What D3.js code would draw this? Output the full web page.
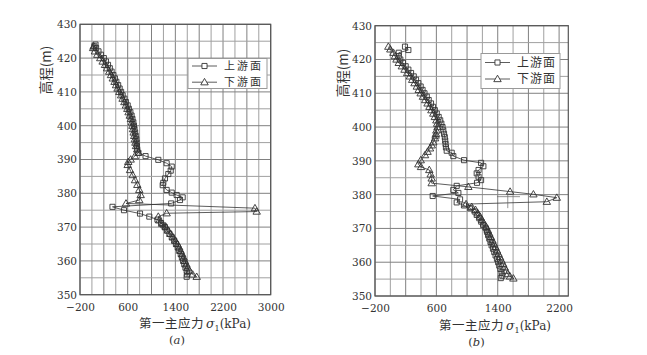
<!DOCTYPE html>
<html><head><meta charset="utf-8">
<script src="https://cdn.jsdelivr.net/npm/d3@7"></script>
<style>body{margin:0;background:#fff}</style></head><body>
<svg id="c" width="647" height="355"></svg>
<script>
// [stress kPa, elevation m]
const aUp = [[60,424.0],[40,423.5],[70,423],[110,422],[150,421],[200,420],[235,419],[270,418],[300,417],[330,416],[360,415],[385,414],[410,413],[440,412],[465,411],[490,410],[515,409],[545,408],[570,407],[600,406],[620,405],[645,404],[665,403],[680,402],[695,401],[705,400],[715,399],[725,398],[735,397],[745,396],[750,395],[755,394],[760,393],[780,392],[900,391],[1114,389.9],[1254,388.9],[1339,387.9],[1322,386.7],[1282,385.7],[1226,384.4],[1198,383.1],[1188,382.4],[1254,381.0],[1339,380.2],[1422,379.5],[1523,378.8],[1478,378.0],[1330,377.0],[345,376.0],[538,375.0],[807,374.0],[963,373.1],[1100,372.2],[1160,371.2],[1200,370.5],[1225,370],[1260,369],[1300,368],[1340,367],[1380,366],[1410,365],[1440,364],[1465,363],[1490,362],[1510,361],[1530,360],[1550,359],[1570,358],[1590,357],[1600,356],[1590,355.3]];
const aDown = [[30,423.5],[20,423],[50,422],[90,421],[140,420],[180,419],[220,418],[255,417],[290,416],[320,415],[350,414],[380,413],[405,412],[430,411],[460,410],[490,409],[515,408],[545,407],[570,406],[595,405],[615,404],[635,403],[655,402],[670,401],[680,400],[690,399],[700,398],[710,397],[720,396],[730,395],[740,394],[760,393],[780,392],[720,391],[650,390],[610,389.3],[600,388.4],[640,386.9],[684,385.4],[723,383.9],[762,382.5],[795,381.0],[818,379.5],[795,378.0],[572,377.0],[2736,375.6],[2765,374.6],[1254,374.1],[1114,373.1],[1130,372],[1180,371],[1240,370],[1280,369],[1320,368],[1360,367],[1400,366],[1435,365],[1465,364],[1490,363],[1515,362],[1540,361],[1560,360],[1585,359],[1610,358],[1640,357],[1690,356],[1758,355.3]];
const bUp = [[191,423.8],[235,422.8],[110,422],[110,421],[130,420],[165,419],[200,418],[235,417],[270,416],[305,415],[335,414],[365,413],[395,412],[420,411],[445,410],[475,409],[500,408],[530,407],[555,406],[580,405],[605,404],[630,403],[650,402],[665,401],[680,400],[690,399],[700,398],[710,397],[715,396],[720,395],[725,394],[735,393],[800,392.4],[821,391.4],[961,390.2],[1183,389.4],[1213,388.4],[1150,387.3],[1126,386.3],[1150,385.3],[1183,384.3],[1130,383.5],[865,382.6],[821,381.4],[887,380.5],[552,379.6],[909,378.6],[865,377.7],[960,376.8],[1040,376],[1100,375],[1126,374],[1160,373],[1185,372],[1210,371],[1245,370],[1260,369],[1275,368],[1290,367],[1305,366],[1320,365],[1338,364],[1355,363],[1372,362],[1390,361],[1405,360],[1420,359],[1435,358],[1450,357],[1460,356],[1440,355.3]];
const bDown = [[-26,423.8],[0,423],[40,422],[60,421],[80,420],[110,419],[150,418],[185,417],[220,416],[255,415],[285,414],[315,413],[345,412],[370,411],[395,410],[425,409],[455,408],[485,407],[510,406],[535,405],[560,404],[580,403],[600,402],[610,401],[615,400],[600,399],[595,398],[590,397.5],[583,396.7],[560,395.5],[540,394.6],[517,393.7],[485,392.7],[452,391.7],[396,390.2],[365,389.0],[400,388.2],[508,387.3],[526,386.0],[539,384.8],[539,383.4],[1017,382.3],[1561,380.9],[1865,380.1],[2170,379.1],[2040,377.9],[987,377.2],[1061,376.4],[1110,375.5],[1140,374.5],[1170,373.5],[1195,372.5],[1220,371.5],[1250,370.5],[1270,369.5],[1290,368.5],[1310,367.5],[1330,366.5],[1350,365.5],[1370,364.5],[1390,363.5],[1410,362.5],[1430,361.5],[1450,360.5],[1470,359.5],[1490,358.5],[1510,357.5],[1530,356.5],[1560,355.8],[1604,355.2]];
const bCross = [[1531,380.5],[1531,376.0],[1390,379.4],[1690,379.4]];

const yTicks = [350,360,370,380,390,400,410,420,430];
const aXTicks = [-200,600,1400,2200,3000];
const bXTicks = [-200,600,1400,2200];
const legendLabels = ["上游面","下游面"];
const xTitle = "第一主应力";
const yTitle = "高程(m)";
const panelLabels = ["a","b"];

const svg = d3.select("#c");
const serif = "DejaVu Serif, Liberation Serif, serif";
const cjk = "Noto Sans CJK SC, sans-serif";
const fmt = d => (d < 0 ? "\u2212" : "") + Math.abs(d);

function panel(cfg){
  const x = d3.scaleLinear().domain(cfg.xd).range([cfg.l, cfg.r]);
  const y = d3.scaleLinear().domain([350,430]).range([cfg.b, cfg.t]);
  const g = svg.append("g");
  const xg = d3.range(-200, cfg.xd[1]+1, 200);
  const yg = d3.range(350, 431, 5);
  g.selectAll(".vg").data(xg).join("line")
    .attr("x1", d=>x(d)).attr("x2", d=>x(d)).attr("y1", cfg.t).attr("y2", cfg.b)
    .attr("stroke", (d)=> ((d+200)%400===0) ? "#808080" : "#a0a0a0").attr("stroke-width", 1);
  g.selectAll(".hg").data(yg).join("line")
    .attr("x1", cfg.l).attr("x2", cfg.r).attr("y1", d=>y(d)).attr("y2", d=>y(d))
    .attr("stroke", d=> (d%10===0) ? "#808080" : "#a0a0a0").attr("stroke-width", 1);
  g.append("rect").attr("x", cfg.l).attr("y", cfg.t).attr("width", cfg.r-cfg.l).attr("height", cfg.b-cfg.t)
    .attr("fill","none").attr("stroke","#555").attr("stroke-width",1.2);
  const ya = g.append("g").attr("transform", `translate(${cfg.l},0)`)
    .call(d3.axisLeft(y).tickValues(yTicks).tickSize(0).tickPadding(3).tickFormat(fmt));
  ya.select(".domain").remove();
  ya.selectAll("text").attr("font-family", serif).attr("font-size", 10.5).attr("fill","#333");
  const xa = g.append("g").attr("transform", `translate(0,${cfg.b})`)
    .call(d3.axisBottom(x).tickValues(cfg.xt).tickSize(0).tickPadding(8.5).tickFormat(fmt));
  xa.select(".domain").remove();
  xa.selectAll("text").attr("font-family", serif).attr("font-size", 10.5).attr("fill","#333");

  const line = d3.line().x(d=>x(d[0])).y(d=>y(d[1]));
  [cfg.up, cfg.down].forEach(s=>{
    g.append("path").datum(s).attr("d", line).attr("fill","none").attr("stroke","#333").attr("stroke-width",0.8);
  });
  const sq = d3.symbol().type(d3.symbolSquare).size(26);
  const tr = d3.symbol().type(d3.symbolTriangle).size(24);
  g.selectAll(".mu").data(cfg.up).join("path").attr("d", sq)
    .attr("transform", d=>`translate(${x(d[0])},${y(d[1])})`)
    .attr("fill","none").attr("stroke","#333").attr("stroke-width",0.9);
  g.selectAll(".md").data(cfg.down).join("path").attr("d", tr)
    .attr("transform", d=>`translate(${x(d[0])},${y(d[1])+0.5})`)
    .attr("fill","none").attr("stroke","#333").attr("stroke-width",0.9);
  if (cfg.cross){
    g.append("line").attr("x1",x(cfg.cross[0][0])).attr("x2",x(cfg.cross[1][0]))
      .attr("y1",y(cfg.cross[0][1])).attr("y2",y(cfg.cross[1][1])).attr("stroke","#666").attr("stroke-width",0.7);
    g.append("line").attr("x1",x(cfg.cross[2][0])).attr("x2",x(cfg.cross[3][0]))
      .attr("y1",y(cfg.cross[2][1])).attr("y2",y(cfg.cross[3][1])).attr("stroke","#666").attr("stroke-width",0.7);
  }
  const L = cfg.leg;
  g.append("rect").attr("x",L.x).attr("y",L.y).attr("width",L.w).attr("height",L.h)
    .attr("fill","#fff").attr("stroke","#999").attr("stroke-width",1);
  [sq,tr].forEach((sym,i)=>{
    const yy = L.y + L.row0 + i*L.dy;
    g.append("line").attr("x1",L.x+4).attr("x2",L.x+29).attr("y1",yy).attr("y2",yy).attr("stroke","#333").attr("stroke-width",0.8);
    g.append("path").attr("d",sym).attr("transform",`translate(${L.x+16.5},${yy + (i?0.5:0)})`)
      .attr("fill","#fff").attr("stroke","#333").attr("stroke-width",0.9);
    g.append("text").attr("x",L.x+36).attr("y",yy).attr("dy","0.35em")
      .attr("font-family",cjk).attr("font-size",L.fs).attr("letter-spacing",L.ls).attr("fill","#333").text(legendLabels[i]);
  });
  const t = g.append("text").attr("x", cfg.xtX).attr("y", cfg.b+33.5).attr("text-anchor","middle").attr("fill","#333");
  t.append("tspan").attr("font-family",cjk).attr("font-size",12.5).attr("letter-spacing",0.5).text(xTitle);
  t.append("tspan").attr("font-family",serif).attr("font-size",12.5).attr("font-style","italic").attr("dx",2).text("σ");
  t.append("tspan").attr("font-family",serif).attr("font-size",8).attr("dy",3).text("1");
  t.append("tspan").attr("font-family",serif).attr("font-size",12).attr("dy",-3).text("(kPa)");
  const p = g.append("text").attr("x", cfg.plX).attr("y", cfg.b+49.5).attr("text-anchor","middle").attr("fill","#333")
    .attr("font-family",serif).attr("font-size",11.5);
  p.append("tspan").text("(");
  p.append("tspan").attr("font-style","italic").text(cfg.pl);
  p.append("tspan").text(")");
  g.append("text").attr("transform",`translate(${cfg.ytX},${cfg.ytY}) rotate(-90)`)
    .attr("text-anchor","middle").attr("dy","0.36em").attr("font-family",cjk).attr("font-size",13.5).attr("fill","#333").text(yTitle);
}

panel({xd:[-200,3000], l:80, r:270.7, t:24.3, b:294.7, xt:aXTicks, up:aUp, down:aDown,
  leg:{x:188,y:58.5,w:79,h:30,row0:7.5,dy:16.2,fs:11,ls:2}, xtX:195, plX:177, pl:panelLabels[0], ytX:46, ytY:70});
panel({xd:[-200,2320], l:375, r:568.3, t:25.7, b:296, xt:bXTicks, up:bUp, down:bDown, cross:bCross,
  leg:{x:481,y:53.5,w:79,h:35,row0:9,dy:16.5,fs:12,ls:1}, xtX:495, plX:476.5, pl:panelLabels[1], ytX:343.5, ytY:73});
</script>
</body></html>
